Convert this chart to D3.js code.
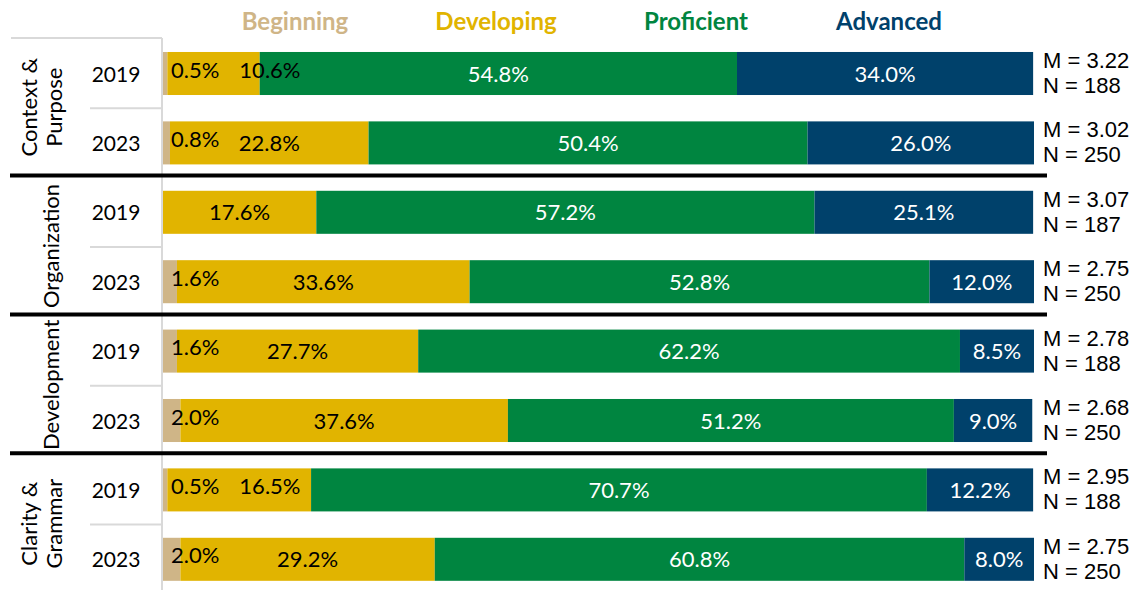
<!DOCTYPE html>
<html>
<head>
<meta charset="utf-8">
<script src="https://cdn.jsdelivr.net/npm/d3@7"></script>
<style>
  body { margin: 0; background: #fff; }
  text { font-family: Lato, "Noto Sans", sans-serif; }
</style>
</head>
<body>
<script>
// data
var levels = ["Beginning", "Developing", "Proficient", "Advanced"];
var levelColors = ["#cfb587", "#e1b400", "#008540", "#00416b"];
var labelColors = ["#000", "#000", "#fff", "#fff"];

var categories = [["Context &", "Purpose"], ["Organization"], ["Development"], ["Clarity &", "Grammar"]];
var years = ["2019", "2023"];

var beginning  = [0.5, 0.8, 0.0, 1.6, 1.6, 2.0, 0.5, 2.0];
var developing = [10.6, 22.8, 17.6, 33.6, 27.7, 37.6, 16.5, 29.2];
var proficient = [54.8, 50.4, 57.2, 52.8, 62.2, 51.2, 70.7, 60.8];
var advanced   = [34.0, 26.0, 25.1, 12.0, 8.5, 9.0, 12.2, 8.0];
var means      = ["3.22", "3.02", "3.07", "2.75", "2.78", "2.68", "2.95", "2.75"];
var counts     = [188, 250, 187, 250, 188, 250, 188, 250];

var W = 1132, H = 590;
var svg = d3.select("body").append("svg")
  .attr("width", W)
  .attr("height", H);

var rows = d3.range(8);
var x = d3.scaleLinear().domain([0, 100]).range([163, 1034]);
var y = d3.scaleBand().domain(rows).range([38.8, 38.8 + 8 * 69.4]).paddingInner(0.38).paddingOuter(0.19);

var series = [beginning, developing, proficient, advanced];

// legend
var legendX = [295, 496, 696, 889];
svg.selectAll(".legend")
  .data(levels)
  .enter().append("text")
    .attr("x", function(d, i) { return legendX[i]; })
    .attr("y", 30)
    .attr("text-anchor", "middle")
    .style("font-weight", "bold")
    .style("font-size", "24px")
    .style("fill", function(d, i) { return levelColors[i]; })
    .text(function(d) { return d; });

// left table lines
var grey = "#d9d9d9";
svg.append("line").attr("x1", 11).attr("x2", 162).attr("y1", 38).attr("y2", 38)
  .style("stroke", grey).style("stroke-width", 2);
svg.append("line").attr("x1", 162).attr("x2", 162).attr("y1", 38).attr("y2", H)
  .style("stroke", grey).style("stroke-width", 2);
for (var g = 0; g < 4; ++g) {
  var yb = y(g * 2) + y.step() - (y.step() - y.bandwidth()) / 2;
  svg.append("line").attr("x1", 90).attr("x2", 162).attr("y1", yb).attr("y2", yb)
    .style("stroke", grey).style("stroke-width", 2);
}

// bars
rows.forEach(function(r) {
  var start = 0;
  var labels = [];
  series.forEach(function(s, k) {
    var v = s[r];
    if (v > 0) {
      svg.append("rect")
        .attr("x", x(start))
        .attr("y", y(r))
        .attr("width", x(start + v) - x(start))
        .attr("height", y.bandwidth())
        .style("fill", levelColors[k]);
      labels.push({ k: k, v: v, cx: (x(start) + x(start + v)) / 2 });
    }
    start += v;
  });

  var cy = y(r) + y.bandwidth() / 2;
  var prevRight = -Infinity;
  labels.forEach(function(l) {
    var t = svg.append("text")
      .attr("y", cy + 8)
      .attr("text-anchor", "middle")
      .style("font-size", "22px")
      .style("fill", labelColors[l.k])
      .text(l.v.toFixed(1) + "%");
    var w = t.node().getComputedTextLength();
    var cx = l.cx;
    var moved = false;
    if (l.k === 0) { cx = Math.max(cx, x(0) + 8 + w / 2); moved = true; }
    else if (cx - w / 2 < prevRight + 4) { cx = prevRight + 20 + w / 2; moved = true; }
    t.attr("x", cx);
    // excel nudges the crowded labels up a little
    if (moved) t.attr("y", cy + 4);
    prevRight = cx + w / 2;
  });

  // year
  svg.append("text")
    .attr("x", 116)
    .attr("y", cy + 8)
    .attr("text-anchor", "middle")
    .style("font-size", "21px")
    .text(years[r % 2]);

  // M / N
  var mn = svg.append("text")
    .attr("x", 1043)
    .style("font-family", "'Liberation Sans', Arial, sans-serif")
    .style("font-size", "22px");
  mn.append("tspan").attr("x", 1043).attr("y", cy - 5.5).text("M = " + means[r]);
  mn.append("tspan").attr("x", 1043).attr("y", cy + 19.5).text("N = " + counts[r]);
});

// category labels
categories.forEach(function(lines, c) {
  var cy = (y(c * 2) + y(c * 2 + 1) + y.bandwidth()) / 2 - 1;
  var cx = lines.length === 2 ? 42 : 52;
  var t = svg.append("text")
    .attr("transform", "translate(" + cx + "," + cy + ") rotate(-90)")
    .attr("text-anchor", "middle")
    .style("font-size", "22px");
  lines.forEach(function(line, i) {
    t.append("tspan")
      .attr("x", 0)
      .attr("y", lines.length === 2 ? (i === 0 ? -5 : 20) : 7)
      .text(line);
  });
});

// black dividers between groups
[1, 2, 3].forEach(function(g) {
  var yb = y(g * 2) - (y.step() - y.bandwidth()) / 2 - 2;
  svg.append("line")
    .attr("x1", 10).attr("x2", 1047)
    .attr("y1", yb).attr("y2", yb)
    .style("stroke", "#000")
    .style("stroke-width", 4);
});
</script>
</body>
</html>
